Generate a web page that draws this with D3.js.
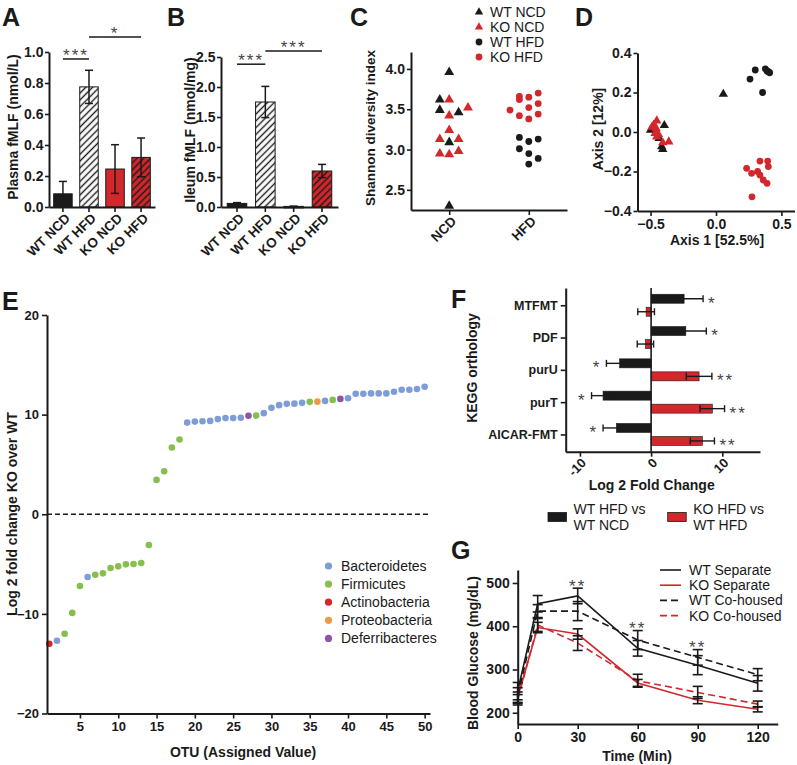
<!DOCTYPE html>
<html><head><meta charset="utf-8">
<script src="https://cdnjs.cloudflare.com/ajax/libs/d3/7.8.5/d3.min.js"></script>
<style>body{margin:0;background:#fff;}</style>
</head><body>
<svg id="chart" width="797" height="765"></svg>
<script>
// ---------------- DATA ----------------
const barGroups = ["WT NCD", "WT HFD", "KO NCD", "KO HFD"];
const barHatched = [false, true, false, true];
const plasmaMean = [0.085, 0.775, 0.245, 0.32];
const plasmaErr = [0.08, 0.107, 0.157, 0.125];
const plasmaTicks = [0.0, 0.2, 0.4, 0.6, 0.8, 1.0];
const ileumMean = [0.06, 1.75, 0.01, 0.60];
const ileumErr = [0.013, 0.26, 0.004, 0.11];
const ileumTicks = [0.0, 0.5, 1.0, 1.5, 2.0, 2.5];
const plasmaSig = [{a: 0, b: 1, v: 0.955, t: "***"}, {a: 1, b: 3, v: 1.097, t: "*"}];
const ileumSig = [{a: 0, b: 1, v: 2.38, t: "***"}, {a: 1, b: 3, v: 2.6, t: "***"}];

// Panel C: [jitter column, Shannon index]
const dietGroups = ["NCD", "HFD"];
const shannonTicks = [2.5, 3.0, 3.5, 4.0];
const wtNcdC = [[0, 3.96], [-1, 3.62], [-1, 3.49], [1, 3.46], [0, 3.09], [0, 2.30]];
const koNcdC = [[0, 3.62], [2, 3.52], [0, 3.42], [0, 3.24], [-1, 3.13], [1, 3.13], [-1, 2.95], [0, 2.94], [1, 2.98]];
const wtHfdC = [[-1, 3.15], [1, 3.13], [0, 3.10], [-1, 3.01], [0, 2.95], [1, 2.89], [0, 2.82]];
const koHfdC = [[-2, 3.49], [-1, 3.66], [-1, 3.62], [0, 3.65], [1, 3.70], [0, 3.52], [1, 3.57], [-1, 3.42], [0, 3.38], [1, 3.44]];
const groupNames = ["WT NCD", "KO NCD", "WT HFD", "KO HFD"];

// Panel D: [axis1, axis2]
const wtNcdD = [[0.056, 0.192], [-0.395, 0.034], [-0.435, -0.032], [-0.415, -0.074], [-0.407, -0.088], [-0.50, 0.01]];
const koNcdD = [[-0.453, 0.057], [-0.478, 0.035], [-0.458, 0.019], [-0.49, 0.025], [-0.466, -0.007], [-0.453, -0.024], [-0.407, -0.054], [-0.361, -0.049], [-0.44, -0.012]];
const wtHfdD = [[0.26, 0.268], [0.30, 0.314], [0.377, 0.32], [0.39, 0.309], [0.41, 0.30], [0.356, 0.20], [0.40, 0.305]];
const koHfdD = [[0.395, -0.147], [0.336, -0.147], [0.40, -0.175], [0.234, -0.184], [0.318, -0.20], [0.272, -0.209], [0.336, -0.218], [0.361, -0.243], [0.39, -0.26], [0.275, -0.328]];
const pcoTicksX = [-0.5, 0.0, 0.5];
const pcoTicksY = [-0.4, -0.2, 0.0, 0.2, 0.4];

// Panel E
const phyla = ["Bacteroidetes", "Firmicutes", "Actinobacteria", "Proteobacteria", "Deferribacteres"];
const phylaColors = ["#7d9dd8", "#86bf4d", "#d8262b", "#eb9b48", "#8d55a6"];
const otuFold = [-13.0, -12.7, -12.0, -9.9, -7.2, -6.3, -6.07, -5.93, -5.4, -5.23, -5.03, -5.0, -4.9, -3.09,
  3.45, 4.32, 6.7, 7.5, 9.2, 9.3, 9.33, 9.37, 9.55, 9.65, 9.65, 9.68, 9.88, 9.9, 10.15, 10.68,
  10.95, 11.08, 11.1, 11.18, 11.28, 11.3, 11.38, 11.48, 11.58, 11.65, 12.1, 12.1, 12.13, 12.13, 12.13,
  12.3, 12.5, 12.5, 12.57, 12.8];
const otuPhylum = [2, 0, 1, 1, 1, 0, 1, 1, 1, 1, 1, 1, 1, 1,
  1, 1, 1, 1, 0, 0, 0, 0, 0, 0, 0, 0, 4, 1, 0, 0,
  0, 0, 0, 0, 1, 3, 0, 1, 4, 0, 0, 0, 0, 0, 0,
  0, 0, 0, 0, 0];
const otuTicksX = [5, 10, 15, 20, 25, 30, 35, 40, 45, 50];
const otuTicksY = [-20, -10, 0, 10, 20];

// Panel F
const keggCats = ["MTFMT", "PDF", "purU", "purT", "AICAR-FMT"];
const wtFold = [4.64, 4.88, -4.42, -6.75, -4.88];
const wtFoldErr = [2.66, 2.88, 1.86, 1.62, 1.87];
const koFold = [-0.7, -0.8, 6.74, 8.6, 7.2];
const koFoldErr = [1.17, 1.15, 1.8, 1.72, 1.7];
const wtSigF = ["*", "*", "*", "*", "*"];
const koSigF = ["", "", "**", "**", "**"];
const foldTicks = [-10, 0, 10];
const fLegend = [["WT HFD vs", "WT NCD"], ["KO HFD vs", "WT HFD"]];

// Panel G
const times = [0, 10, 30, 60, 90, 120];
const wtSep = [250, 452, 470, 349, 310, 268];
const wtSepErr = [20, 19, 18, 18, 22, 18];
const koSep = [236, 397, 382, 269, 229, 208];
const koSepErr = [12, 12, 12, 8, 8, 6];
const wtCo = [240, 435, 435, 368, 328, 288];
const wtCoErr = [18, 15, 22, 22, 18, 14];
const koCo = [230, 403, 361, 274, 247, 220];
const koCoErr = [12, 15, 17, 15, 14, 7];
const gttSig = [[30, 488], [60, 391], [90, 347]];
const glucoseTicks = [200, 300, 400, 500];
const timeTicks = [0, 30, 60, 90, 120];
const gSeriesNames = ["WT Separate", "KO Separate", "WT Co-housed", "KO Co-housed"];

// ---------------- DRAW ----------------
const FONT = "'Liberation Sans', Arial, Helvetica, sans-serif";
const RED = "#d2272b";
const INK = "#1a1a1a";
const svg = d3.select("#chart").attr("font-family", FONT);
const defs = svg.append("defs");

function hatch(id, bg) {
  const p = defs.append("pattern").attr("id", id).attr("patternUnits", "userSpaceOnUse")
    .attr("width", 4.8).attr("height", 4.8).attr("patternTransform", "rotate(45)");
  p.append("rect").attr("width", 4.8).attr("height", 4.8).attr("fill", bg);
  p.append("line").attr("x1", 2.4).attr("y1", 0).attr("x2", 2.4).attr("y2", 4.8)
    .attr("stroke", INK).attr("stroke-width", 1.4);
}
hatch("hw", "#ffffff");
hatch("hr", RED);

function styleAxis(g, fs) {
  g.attr("font-family", FONT);
  g.select(".domain").attr("stroke", INK).attr("stroke-width", 2);
  g.selectAll(".tick line").attr("stroke", INK).attr("stroke-width", 1.6);
  g.selectAll(".tick text").attr("font-size", fs || 13).attr("font-weight", "bold").attr("fill", INK);
}
function letter(t, x, y) {
  svg.append("text").attr("x", x).attr("y", y).attr("font-size", 25).attr("font-weight", "bold")
    .attr("fill", INK).text(t);
}
function vTitle(t, x, y, fs) {
  svg.append("text").attr("transform", `translate(${x},${y}) rotate(-90)`).attr("text-anchor", "middle")
    .attr("font-size", fs || 14).attr("font-weight", "bold").attr("fill", INK).text(t);
}
function hTitle(t, x, y, fs) {
  svg.append("text").attr("x", x).attr("y", y).attr("text-anchor", "middle")
    .attr("font-size", fs || 14).attr("font-weight", "bold").attr("fill", INK).text(t);
}
function rotLabels(labels, xs, y, fs) {
  labels.forEach((l, i) => {
    svg.append("text").attr("transform", `translate(${xs[i] + 8},${y + 12}) rotate(-45)`)
      .attr("text-anchor", "end").attr("font-size", fs || 13).attr("font-weight", "bold")
      .attr("fill", INK).text(l);
  });
}
function stars(t, x, baseY, fs) {
  svg.append("text").attr("x", x).attr("y", baseY).attr("text-anchor", "middle")
    .attr("font-size", fs || 17).attr("letter-spacing", 2).attr("fill", "#444").text(t);
}

// ---- Bar panels A, B ----
function barPanel(cfg) {
  const x = d3.scaleBand().domain(barGroups).range([cfg.x0, cfg.x1]).paddingInner(cfg.pi).paddingOuter(cfg.po);
  const y = d3.scaleLinear().domain([0, cfg.max]).range([cfg.yb, cfg.yt]);
  const g = svg.append("g");
  barGroups.forEach((k, i) => {
    const m = cfg.means[i], e = cfg.errs[i];
    const fill = barHatched[i] ? (i === 1 ? "url(#hw)" : "url(#hr)") : (i === 0 ? INK : RED);
    const top = y(m);
    g.append("rect").attr("x", x(k)).attr("y", top).attr("width", x.bandwidth())
      .attr("height", Math.max(1.5, cfg.yb - top)).attr("fill", fill).attr("stroke", INK).attr("stroke-width", 1);
    const cx = x(k) + x.bandwidth() / 2;
    g.append("line").attr("x1", cx).attr("x2", cx).attr("y1", y(m - e)).attr("y2", y(m + e)).attr("stroke", INK).attr("stroke-width", 1.5);
    [m - e, m + e].forEach(v => g.append("line").attr("x1", cx - 4).attr("x2", cx + 4).attr("y1", y(v)).attr("y2", y(v)).attr("stroke", INK).attr("stroke-width", 1.5));
  });
  const ya = svg.append("g").attr("transform", `translate(${cfg.x0},0)`)
    .call(d3.axisLeft(y).tickValues(cfg.ticks).tickFormat(d3.format(".1f")).tickSize(4).tickPadding(1.5).tickSizeOuter(0));
  styleAxis(ya, 14);
  const xa = svg.append("g").attr("transform", `translate(0,${cfg.yb})`)
    .call(d3.axisBottom(x).tickSize(5).tickSizeOuter(0).tickFormat(""));
  styleAxis(xa);
  rotLabels(barGroups, barGroups.map(k => x(k) + x.bandwidth() / 2), cfg.yb, 13.5);
  cfg.sig.forEach(s => {
    const xa1 = x(barGroups[s.a]) + x.bandwidth() / 2, xb1 = x(barGroups[s.b]) + x.bandwidth() / 2;
    svg.append("line").attr("x1", xa1).attr("x2", xb1).attr("y1", y(s.v)).attr("y2", y(s.v)).attr("stroke", INK).attr("stroke-width", 1.5);
    stars(s.t, (xa1 + xb1) / 2, y(s.v) + 2);
  });
}
barPanel({x0: 49, x1: 155, yb: 207, yt: 52, max: 1.0, pi: 0.29, po: 0.18, means: plasmaMean, errs: plasmaErr, ticks: plasmaTicks, sig: plasmaSig});
barPanel({x0: 221, x1: 338, yb: 207, yt: 57, max: 2.5, pi: 0.31, po: 0.22, means: ileumMean, errs: ileumErr, ticks: ileumTicks, sig: ileumSig});
vTitle("Plasma fMLF (nmol/L)", 18, 127);
vTitle("Ileum fMLF (nmol/mg)", 195, 130);
letter("A", 2, 26);
letter("B", 167, 26);

// ---- Panel C ----
(function () {
  const x = d3.scalePoint().domain(dietGroups).range([411, 567]).padding(0.48);
  const y = d3.scaleLinear().domain([2.25, 4.21]).range([210, 52]);
  const J = 9.4;
  const tri = d3.symbol(d3.symbolTriangle, 42);
  const sets = [[wtNcdC, "NCD", INK, true], [koNcdC, "NCD", RED, true], [wtHfdC, "HFD", INK, false], [koHfdC, "HFD", RED, false]];
  sets.forEach(([data, grp, col, isTri]) => {
    data.forEach(([c, v]) => {
      const px = x(grp) + c * J, py = y(v);
      if (isTri) svg.append("path").attr("d", tri()).attr("transform", `translate(${px},${py})`).attr("fill", col);
      else svg.append("circle").attr("cx", px).attr("cy", py).attr("r", 3.4).attr("fill", col);
    });
  });
  const ya = svg.append("g").attr("transform", "translate(411,0)")
    .call(d3.axisLeft(y).tickValues(shannonTicks).tickFormat(d3.format(".1f")).tickSize(4).tickPadding(2).tickSizeOuter(0));
  styleAxis(ya, 14);
  const xa = svg.append("g").attr("transform", "translate(0,210)")
    .call(d3.axisBottom(x).tickSize(5).tickSizeOuter(0).tickFormat(""));
  styleAxis(xa);
  rotLabels(dietGroups, dietGroups.map(d => x(d)), 210, 13.5);
  vTitle("Shannon diversity index", 375, 128, 13.5);
  const cols = [INK, RED, INK, RED];
  groupNames.forEach((n, i) => {
    const ly = 12 + i * 15;
    if (i < 2) svg.append("path").attr("d", d3.symbol(d3.symbolTriangle, 30)()).attr("transform", `translate(479,${ly})`).attr("fill", cols[i]);
    else svg.append("circle").attr("cx", 479).attr("cy", ly).attr("r", 3.4).attr("fill", cols[i]);
    svg.append("text").attr("x", 490).attr("y", ly + 5).attr("font-size", 14).attr("fill", INK).text(n);
  });
  letter("C", 350, 26);
})();

// ---- Panel D ----
(function () {
  const x = d3.scaleLinear().domain([-0.6, 0.6]).range([637.5, 794.5]);
  const y = d3.scaleLinear().domain([-0.4, 0.4]).range([211, 53]);
  const tri = d3.symbol(d3.symbolTriangle, 38);
  [[wtNcdD, INK, true], [koNcdD, RED, true], [wtHfdD, INK, false], [koHfdD, RED, false]].forEach(([data, col, isTri]) => {
    data.forEach(([a, b]) => {
      if (isTri) svg.append("path").attr("d", tri()).attr("transform", `translate(${x(a)},${y(b)})`).attr("fill", col);
      else svg.append("circle").attr("cx", x(a)).attr("cy", y(b)).attr("r", 3.4).attr("fill", col);
    });
  });
  const ya = svg.append("g").attr("transform", "translate(637.5,0)")
    .call(d3.axisLeft(y).tickValues(pcoTicksY).tickFormat(d3.format(".1f")).tickSize(4).tickPadding(2).tickSizeOuter(0));
  styleAxis(ya, 14);
  const xa = svg.append("g").attr("transform", "translate(0,211)")
    .call(d3.axisBottom(x).tickValues(pcoTicksX).tickFormat(d3.format(".1f")).tickSize(5).tickSizeOuter(0));
  styleAxis(xa, 14);
  vTitle("Axis 2 [12%]", 603, 129, 14);
  hTitle("Axis 1 [52.5%]", 717, 245, 14);
  letter("D", 575, 26);
})();

// ---- Panel E ----
(function () {
  const x = d3.scaleLinear().domain([0.7, 50.7]).range([47, 430]);
  const y = d3.scaleLinear().domain([-20, 20]).range([713.5, 315]);
  svg.append("line").attr("x1", 47).attr("x2", 428).attr("y1", y(0)).attr("y2", y(0))
    .attr("stroke", INK).attr("stroke-width", 1.6).attr("stroke-dasharray", "5,3");
  otuFold.forEach((v, i) => {
    svg.append("circle").attr("cx", x(i + 1)).attr("cy", y(v)).attr("r", 3.3).attr("fill", phylaColors[otuPhylum[i]]);
  });
  const ya = svg.append("g").attr("transform", "translate(47,0)")
    .call(d3.axisLeft(y).tickValues(otuTicksY).tickSize(5).tickSizeOuter(0));
  styleAxis(ya, 13);
  const xa = svg.append("g").attr("transform", `translate(0,713.5)`)
    .call(d3.axisBottom(x).tickValues(otuTicksX).tickSize(5).tickSizeOuter(0));
  styleAxis(xa, 13);
  vTitle("Log 2 fold change KO over WT", 17, 514, 14);
  hTitle("OTU (Assigned Value)", 243, 757, 14);
  phyla.forEach((p, i) => {
    const ly = 566 + i * 18.1;
    svg.append("circle").attr("cx", 328.5).attr("cy", ly).attr("r", 3.6).attr("fill", phylaColors[i]);
    svg.append("text").attr("x", 341).attr("y", ly + 5).attr("font-size", 14).attr("fill", INK).text(p);
  });
  letter("E", 2, 310);
})();

// ---- Panel F ----
(function () {
  const x = d3.scaleLinear().domain([-12, 15.3]).range([565.7, 760]);
  const y = d3.scalePoint().domain(keggCats).range([288, 451.7]).padding(0.534);
  keggCats.forEach((c, i) => {
    const cy = y(c);
    const drawBar = (v, e, col, y0, sig) => {
      svg.append("rect").attr("x", Math.min(x(0), x(v))).attr("y", y0).attr("width", Math.abs(x(v) - x(0)))
        .attr("height", 9).attr("fill", col).attr("stroke", INK).attr("stroke-width", 0.6);
      const ym = y0 + 4.5;
      svg.append("line").attr("x1", x(v - e)).attr("x2", x(v + e)).attr("y1", ym).attr("y2", ym).attr("stroke", INK).attr("stroke-width", 1.4);
      [v - e, v + e].forEach(t => svg.append("line").attr("x1", x(t)).attr("x2", x(t)).attr("y1", ym - 3.5).attr("y2", ym + 3.5).attr("stroke", INK).attr("stroke-width", 1.4));
      if (sig) {
        const sx = v >= 0 ? x(v + e) + 5 : x(v - e) - 5;
        svg.append("text").attr("x", sx).attr("y", ym + 10).attr("text-anchor", v >= 0 ? "start" : "end")
          .attr("font-size", 17).attr("letter-spacing", 2).attr("fill", "#444").text(sig);
      }
    };
    drawBar(wtFold[i], wtFoldErr[i], INK, cy - 11, wtSigF[i]);
    drawBar(koFold[i], koFoldErr[i], RED, cy + 2, koSigF[i]);
  });
  svg.append("line").attr("x1", x(0)).attr("x2", x(0)).attr("y1", 288).attr("y2", 451.7).attr("stroke", INK).attr("stroke-width", 1.6);
  const ya = svg.append("g").attr("transform", "translate(565.7,0)")
    .call(d3.axisLeft(y).tickSize(5).tickSizeOuter(0));
  styleAxis(ya, 12.5);
  const xa = svg.append("g").attr("transform", "translate(0,451.7)")
    .call(d3.axisBottom(x).tickValues(foldTicks).tickSize(5).tickSizeOuter(0).tickFormat(""));
  styleAxis(xa);
  rotLabels(foldTicks.map(String), foldTicks.map(t => x(t) - 1), 451.7, 13);
  hTitle("Log 2 Fold Change", 651.7, 490, 14);
  vTitle("KEGG orthology", 477, 368, 14);
  const lx = [548, 667.7], cols = [INK, RED];
  fLegend.forEach((lines, i) => {
    svg.append("rect").attr("x", lx[i]).attr("y", 512.5).attr("width", 18.5).attr("height", 9).attr("fill", cols[i]).attr("stroke", INK).attr("stroke-width", 0.8);
    lines.forEach((t, j) => svg.append("text").attr("x", lx[i] + 25.5).attr("y", 514 + j * 16).attr("font-size", 14).attr("fill", INK).text(t));
  });
  letter("F", 451, 308);
})();

// ---- Panel G ----
(function () {
  const x = d3.scaleLinear().domain([0, 130]).range([517.7, 777.7]);
  const y = d3.scaleLinear().domain([174, 530]).range([724, 570]);
  const series = [[wtSep, wtSepErr, INK, null], [koSep, koSepErr, RED, null], [wtCo, wtCoErr, INK, "7,4"], [koCo, koCoErr, RED, "7,4"]];
  const line = d3.line().x((d, i) => x(times[i])).y(d => y(d));
  series.forEach(([vals, errs, col, dash]) => {
    const p = svg.append("path").attr("d", line(vals)).attr("fill", "none").attr("stroke", col).attr("stroke-width", 1.6);
    if (dash) p.attr("stroke-dasharray", dash);
  });
  series.forEach(([vals, errs]) => {
    vals.forEach((v, i) => {
      const cx = x(times[i]);
      svg.append("line").attr("x1", cx).attr("x2", cx).attr("y1", y(v - errs[i])).attr("y2", y(v + errs[i])).attr("stroke", INK).attr("stroke-width", 1.6);
      [v - errs[i], v + errs[i]].forEach(t => svg.append("line").attr("x1", cx - 5).attr("x2", cx + 5).attr("y1", y(t)).attr("y2", y(t)).attr("stroke", INK).attr("stroke-width", 1.6));
    });
  });
  gttSig.forEach(([t, v]) => stars("**", x(t), y(v) + 4, 17));
  const ya = svg.append("g").attr("transform", "translate(517.7,0)")
    .call(d3.axisLeft(y).tickValues(glucoseTicks).tickSize(5).tickSizeOuter(0));
  styleAxis(ya, 14);
  const xa = svg.append("g").attr("transform", "translate(0,724)")
    .call(d3.axisBottom(x).tickValues(timeTicks).tickSize(5).tickSizeOuter(0));
  styleAxis(xa, 14);
  vTitle("Blood Glucose (mg/dL)", 478, 653, 14);
  hTitle("Time (Min)", 637, 761, 14);
  const cols = [INK, RED, INK, RED], dashes = [null, null, "7,4", "7,4"];
  gSeriesNames.forEach((n, i) => {
    const ly = 570 + i * 15.2;
    const l = svg.append("line").attr("x1", 660).attr("x2", 681).attr("y1", ly).attr("y2", ly).attr("stroke", cols[i]).attr("stroke-width", 1.6);
    if (dashes[i]) l.attr("stroke-dasharray", dashes[i]);
    svg.append("text").attr("x", 689).attr("y", ly + 5).attr("font-size", 14).attr("fill", INK).text(n);
  });
  letter("G", 451, 559);
})();
</script>
</body></html>
